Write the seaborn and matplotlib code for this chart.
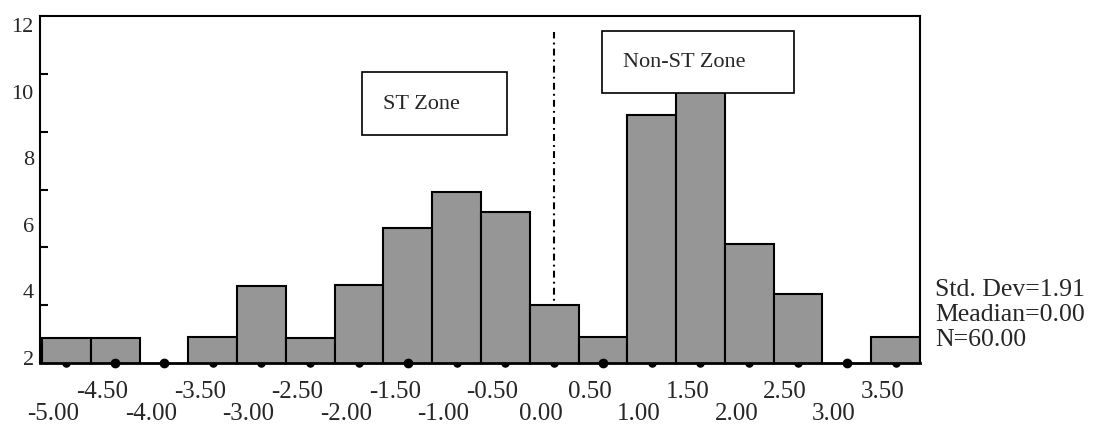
import numpy as np
import pandas as pd
import matplotlib
matplotlib.use("Agg")
import matplotlib.pyplot as plt
from matplotlib.transforms import ScaledTranslation
from matplotlib.patches import Rectangle
import seaborn as sns

# ---- data ----
bin_labels = ["-5.00", "-4.50", "-4.00", "-3.50", "-3.00", "-2.50", "-2.00", "-1.50",
              "-1.00", "-0.50", "0.00", "0.50", "1.00", "1.50", "2.00", "2.50",
              "3.00", "3.50"]
bar_values = [2.60, 2.60, 0.0, 2.62, 4.16, 2.60, 4.19, 5.90,
              6.98, 6.38, 3.59, 2.63, 9.30, 10.00, 5.42, 3.92,
              0.0, 2.63]
highlight_bins = ["-4.50", "-4.00", "-1.50", "0.50", "3.00"]
y_tick_values = [2, 4, 6, 8, 10, 12]
y_tick_labels = ["2", "4", "6", "8", "10", "12"]
divider_bin = "0.00"
zone_labels = ["ST Zone", "Non-ST Zone"]
std_dev = 1.91
median = 0.00
n_obs = 60.00

sns.set_theme(style="white")
plt.rcParams["font.family"] = ["Liberation Serif", "DejaVu Serif"]

W, H = 1093, 424
fig = plt.figure(figsize=(W / 100, H / 100), dpi=100)
ax = fig.add_axes([40 / W, 61 / H, 880 / W, 347 / H])

df = pd.DataFrame({"bin": bin_labels, "value": bar_values})
sns.barplot(data=df, x="bin", y="value", order=bin_labels, color="#969696",
            saturation=1, edgecolor="black", linewidth=1.5, width=1.0, ax=ax, zorder=2)

YLO, YHI = 1.85, 12.27
ax.set_xlim(-0.54, 17.5)
ax.set_ylim(YLO, YHI)
ax.set_xlabel("")
ax.set_ylabel("")

# spines
for s in ax.spines.values():
    s.set_visible(True)
    s.set_color("black")
    s.set_linewidth(1.5)
    s.set_zorder(3)
ax.spines["bottom"].set_linewidth(2.0)

# y ticks: labels evenly spaced, tick marks at 6 equal intervals
ax.set_yticks(y_tick_values)
ax.set_yticklabels(y_tick_labels)
ax.set_yticks(np.linspace(YLO, YHI, 7)[1:-1], minor=True)
ax.tick_params(axis="y", which="major", length=0, pad=4.5, labelsize=16)
ax.tick_params(axis="y", which="minor", direction="in", length=5.8, width=1.5,
               left=True, color="black")

# x ticks: two rows of labels
pos = np.arange(len(bin_labels))
ax.set_xticks(pos[0::2])
ax.set_xticklabels(bin_labels[0::2])
ax.set_xticks(pos[1::2], minor=True)
ax.set_xticklabels(bin_labels[1::2], minor=True)
ax.tick_params(axis="x", which="major", length=0, pad=29, labelsize=18)
ax.tick_params(axis="x", which="minor", length=0, pad=13, labelsize=18)
shift = ScaledTranslation(-13 / 100, 0, fig.dpi_scale_trans)
for lab in ax.get_xticklabels() + ax.get_xticklabels(minor=True):
    lab.set_transform(lab.get_transform() + shift)

# baseline dots (tick markers)
normal = [i for i, b in enumerate(bin_labels) if b not in highlight_bins]
hi = [i for i, b in enumerate(bin_labels) if b in highlight_bins]
ax.scatter(normal, [YLO] * len(normal), s=26, color="black", zorder=1, clip_on=False)
ax.scatter(hi, [YLO] * len(hi), s=36, color="black", zorder=5, clip_on=False)

# divider dash-dot line
xd = bin_labels.index(divider_bin)
ax.vlines(xd, YLO, 11.79, colors="black", linewidth=1.5,
          linestyles=[(0, (3.3, 2.0, 0.9, 2.0))], zorder=1)

# zone boxes
ax.add_patch(Rectangle((6.06, 8.70), 2.98, 1.89, facecolor="white", edgecolor="black",
                       linewidth=1.2, zorder=6))
ax.text(6.50, 9.62, zone_labels[0], fontsize=16, va="center", ha="left", zorder=7)
ax.add_patch(Rectangle((10.98, 9.96), 3.94, 1.86, facecolor="white", edgecolor="black",
                       linewidth=1.2, zorder=6))
ax.text(11.41, 10.86, zone_labels[1], fontsize=16, va="center", ha="left", zorder=7)

# stats
fig.text(935 / W, 1 - 315 / H,
         f"Std. Dev={std_dev:.2f}\nMeadian={median:.2f}\nN={n_obs:.2f}",
         fontsize=18.5, ha="left", va="center", linespacing=1.17)

fig.savefig("out.png", dpi=100)
